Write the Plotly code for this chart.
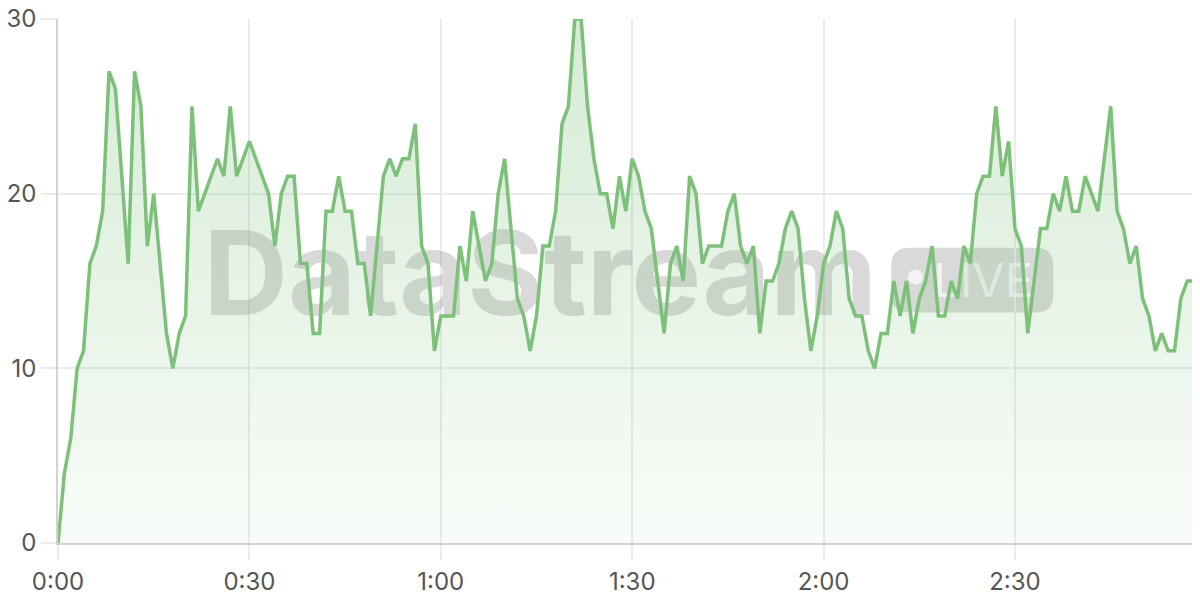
import plotly.graph_objects as go

# viewers per second (t = 0 .. 178 s)
viewers = [
    0, 4, 6, 10, 11, 16, 17, 19, 27, 26,
    21, 16, 27, 25, 17, 20, 16, 12, 10, 12,
    13, 25, 19, 20, 21, 22, 21, 25, 21, 22,
    23, 22, 21, 20, 17, 20, 21, 21, 16, 16,
    12, 12, 19, 19, 21, 19, 19, 16, 16, 13,
    17, 21, 22, 21, 22, 22, 24, 17, 16, 11,
    13, 13, 13, 17, 15, 19, 17, 15, 16, 20,
    22, 18, 14, 13, 11, 13, 17, 17, 19, 24,
    25, 30, 30, 25, 22, 20, 20, 18, 21, 19,
    22, 21, 19, 18, 15, 12, 16, 17, 15, 21,
    20, 16, 17, 17, 17, 19, 20, 17, 16, 17,
    12, 15, 15, 16, 18, 19, 18, 14, 11, 13,
    16, 17, 19, 18, 14, 13, 13, 11, 10, 12,
    12, 15, 13, 15, 12, 14, 15, 17, 13, 13,
    15, 14, 17, 16, 20, 21, 21, 25, 21, 23,
    18, 17, 12, 15, 18, 18, 20, 19, 21, 19,
    19, 21, 20, 19, 22, 25, 19, 18, 16, 17,
    14, 13, 11, 12, 11, 11, 14, 15, 15,
]
seconds = list(range(len(viewers)))

x_ticks = [0, 30, 60, 90, 120, 150]
x_labels = ["0:00", "0:30", "1:00", "1:30", "2:00", "2:30"]
y_ticks = [0, 10, 20, 30]

green = "rgb(124,192,122)"
grid = "#ebebeb"
axis = "#d2d2d2"
mark = "rgba(128,128,128,0.3)"

fig = go.Figure()

# watermark text goes first so the area fill sits on top of it
fig.add_trace(go.Scatter(
    x=[75.6], y=[14.75], mode="text", text=["DataStream"],
    textfont=dict(family="Inter", size=117, color=mark, weight=700),
    hoverinfo="skip", showlegend=False,
))
fig.add_trace(go.Scatter(
    x=[145.0], y=[14.75], mode="text", text=["LIVE"],
    textfont=dict(family="Inter", size=47, color="rgba(255,255,255,0.7)"),
    hoverinfo="skip", showlegend=False,
))

fig.add_trace(go.Scatter(
    x=seconds, y=viewers, mode="lines",
    line=dict(color=green, width=3.5),
    fill="tozeroy",
    fillgradient=dict(
        type="vertical",
        colorscale=[[0, "rgba(124,192,122,0.05)"], [1, "rgba(124,192,122,0.32)"]],
    ),
    hoverinfo="skip", showlegend=False,
))

# "LIVE" pill behind the text
x0, x1, y0, y1 = 130.6, 156.0, 13.2, 16.9
rx, ry = 2.8, 1.0
pill = (
    f"M {x0+rx},{y0} L {x1-rx},{y0} Q {x1},{y0} {x1},{y0+ry} "
    f"L {x1},{y1-ry} Q {x1},{y1} {x1-rx},{y1} L {x0+rx},{y1} "
    f"Q {x0},{y1} {x0},{y1-ry} L {x0},{y0+ry} Q {x0},{y0} {x0+rx},{y0} Z"
)
fig.add_shape(type="path", path=pill, xref="x", yref="y",
              fillcolor=mark, line=dict(width=0), layer="below")
fig.add_shape(type="circle", xref="x", yref="y",
              x0=133.2, x1=135.6, y0=14.8, y1=15.66,
              fillcolor="rgba(255,255,255,0.7)", line=dict(width=0), layer="below")

# page body adds an 8px offset, so the figure is 8px smaller than the window
fig.update_layout(
    width=1192, height=592,
    margin=dict(l=50, r=0, t=11, b=57, autoexpand=False),
    paper_bgcolor="white", plot_bgcolor="white",
    font=dict(family="Inter", size=24, color="#555555"),
    xaxis=dict(
        range=[0, 179], tickvals=x_ticks, ticktext=x_labels,
        showgrid=True, gridcolor=grid, gridwidth=1.5,
        showline=True, linecolor=axis, linewidth=1.5,
        ticks="outside", ticklen=15, tickcolor=grid, tickwidth=1.5,
        ticklabelstandoff=1, zeroline=False, fixedrange=True,
        automargin=False, ticklabeloverflow="allow",
    ),
    yaxis=dict(
        range=[0, 30], tickvals=y_ticks,
        showgrid=True, gridcolor=grid, gridwidth=1.5,
        showline=True, linecolor=axis, linewidth=1.5,
        ticks="outside", ticklen=15, tickcolor=grid, tickwidth=1.5,
        ticklabelstandoff=0, zeroline=False, fixedrange=True,
        automargin=False, ticklabeloverflow="allow",
    ),
)

fig.write_html("out.html")
